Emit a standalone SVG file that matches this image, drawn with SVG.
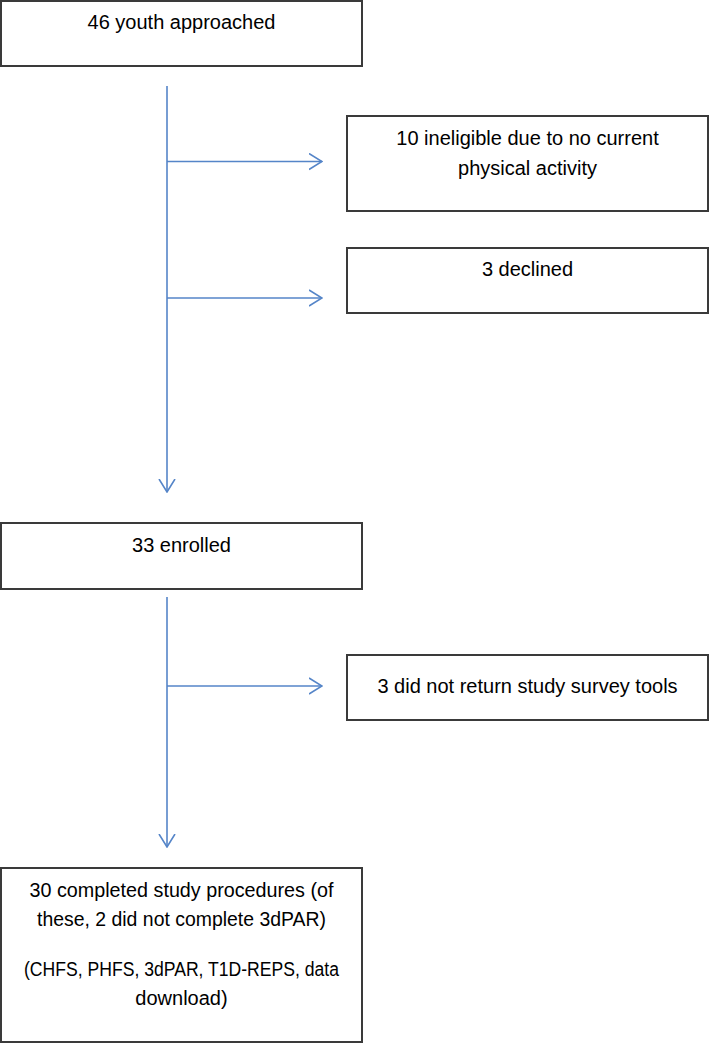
<svg xmlns="http://www.w3.org/2000/svg" width="709" height="1044" viewBox="0 0 709 1044">
<defs>
<style>
.box{fill:#fff;stroke:#3a3a3a;stroke-width:2}
.lbl{font-family:"Liberation Sans",Arial,sans-serif;font-size:20px;fill:#000;text-anchor:middle}
.conn{fill:none;stroke:#5585c8;stroke-width:1.6}
</style>
<marker id="arr" viewBox="0 0 14 18" refX="13" refY="9" markerWidth="14" markerHeight="18" markerUnits="userSpaceOnUse" orient="auto">
<path d="M0,1 L13,9 L0,17" fill="none" stroke="#5585c8" stroke-width="1.6"/>
</marker>
</defs>
<rect width="709" height="1044" fill="#fff"/>
<g id="connectors">
<line class="conn" x1="167" y1="86" x2="167" y2="492" marker-end="url(#arr)"/>
<line class="conn" x1="167" y1="161.5" x2="322" y2="161.5" marker-end="url(#arr)"/>
<line class="conn" x1="167" y1="298" x2="322" y2="298" marker-end="url(#arr)"/>
<line class="conn" x1="167" y1="597" x2="167" y2="847" marker-end="url(#arr)"/>
<line class="conn" x1="167" y1="686" x2="322" y2="686" marker-end="url(#arr)"/>
</g>
<g id="n1">
<rect class="box" x="1" y="1" width="361" height="65"/>
<text class="lbl" x="181.5" y="29">46 youth approached</text>
</g>
<g id="n2">
<rect class="box" x="347" y="116" width="361" height="95"/>
<text class="lbl" x="527.5" y="145">10 ineligible due to no current</text>
<text class="lbl" x="527.5" y="175">physical activity</text>
</g>
<g id="n3">
<rect class="box" x="347" y="248" width="361" height="65"/>
<text class="lbl" x="527.5" y="276">3 declined</text>
</g>
<g id="n4">
<rect class="box" x="1" y="523" width="361" height="66"/>
<text class="lbl" x="181.5" y="552">33 enrolled</text>
</g>
<g id="n5">
<rect class="box" x="347" y="655" width="361" height="65"/>
<text class="lbl" x="527.5" y="693">3 did not return study survey tools</text>
</g>
<g id="n6">
<rect class="box" x="1" y="868" width="361" height="174"/>
<text class="lbl" x="181.5" y="897" textLength="304" lengthAdjust="spacingAndGlyphs">30 completed study procedures (of</text>
<text class="lbl" x="181.5" y="926" textLength="289" lengthAdjust="spacingAndGlyphs">these, 2 did not complete 3dPAR)</text>
<text class="lbl" x="181.5" y="976" textLength="315" lengthAdjust="spacingAndGlyphs">(CHFS, PHFS, 3dPAR, T1D-REPS, data</text>
<text class="lbl" x="181.5" y="1005">download)</text>
</g>
</svg>
